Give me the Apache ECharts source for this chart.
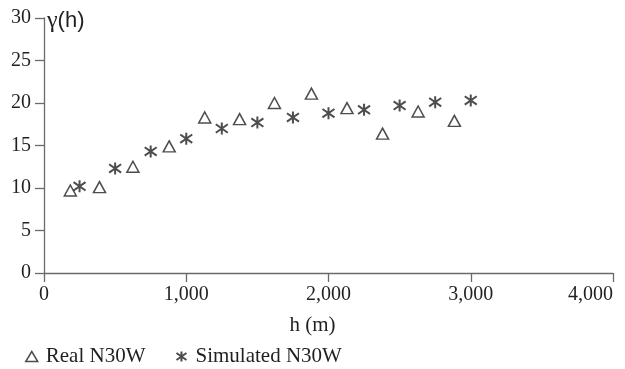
<!DOCTYPE html>
<html><head><meta charset="utf-8">
<script src="https://cdn.jsdelivr.net/npm/echarts@6/dist/echarts.min.js"></script>
<style>html,body{margin:0;padding:0;background:#fff}#c{width:625px;height:369px}</style>
</head><body><div id="c"></div>
<script>
const realH = [185, 390, 625, 880, 1130, 1375, 1620, 1880, 2130, 2380, 2630, 2885];
const realG = [9.7, 10.1, 12.5, 14.9, 18.3, 18.1, 20.0, 21.1, 19.4, 16.4, 19.0, 17.9];
const simH = [250, 500, 750, 1000, 1250, 1500, 1750, 2000, 2250, 2500, 2750, 3000];
const simG = [10.2, 12.3, 14.3, 15.8, 17.0, 17.7, 18.3, 18.8, 19.2, 19.7, 20.1, 20.3];
const seriesNames = ['Real N30W', 'Simulated N30W'];

const star = 'path://M0,-1L0,1M-1,-0.7L1,0.7M-1,0.7L1,-0.7';
const serif = '"Liberation Serif", "DejaVu Serif", serif';
const sans = '"Liberation Sans", Arial, sans-serif';
const ink = '#231f20';
const axisCol = '#6a6a6a';

const chart = echarts.init(document.getElementById('c'));
chart.setOption({
  animation: false,
  grid: {left: 44, right: 12, top: 18, bottom: 96, containLabel: false, outerBoundsMode: 'none'},
  legend: {
    left: 25, bottom: 2, padding: 0, itemGap: 30, itemWidth: 12, itemHeight: 10,
    textStyle: {fontFamily: serif, fontSize: 21, color: ink, padding: [0, 0, 0, 3]},
    data: [
      {name: seriesNames[0], icon: 'triangle', itemStyle: {color: 'transparent', borderColor: ink, borderWidth: 1.5}},
      {name: seriesNames[1], icon: star, itemStyle: {color: 'transparent', borderColor: ink, borderWidth: 2}}
    ]
  },
  xAxis: {
    type: 'value', min: 0, max: 4000, interval: 1000,
    name: 'h (m)', nameLocation: 'middle', nameGap: 42,
    nameTextStyle: {fontFamily: serif, fontSize: 21, color: ink, padding: [0, 32, 0, 0]},
    axisLine: {show: true, lineStyle: {color: axisCol, width: 1.3}},
    axisTick: {show: true, inside: false, length: 9, lineStyle: {color: axisCol, width: 1.3}},
    axisLabel: {fontFamily: serif, fontSize: 20, color: ink, margin: 12, alignMaxLabel: 'right',
      formatter: v => v.toLocaleString('en-US')},
    splitLine: {show: false}
  },
  yAxis: {
    type: 'value', min: 0, max: 30, interval: 5,
    axisLine: {show: true, lineStyle: {color: axisCol, width: 1.3}},
    axisTick: {show: true, inside: false, length: 9, lineStyle: {color: axisCol, width: 1.3}},
    axisLabel: {fontFamily: serif, fontSize: 20, color: ink, margin: 13},
    splitLine: {show: false}
  },
  graphic: [{
    type: 'text', left: 47, top: 9,
    style: {
      text: '{g|γ}{s|(h)}',
      rich: {
        g: {fontFamily: serif, fontSize: 24, fill: ink},
        s: {fontFamily: sans, fontSize: 22, fill: ink}
      }
    }
  }],
  series: [
    {
      name: seriesNames[0], type: 'scatter', symbol: 'triangle', symbolSize: [12, 11],
      itemStyle: {color: 'transparent', borderColor: ink, borderWidth: 1.5},
      data: realH.map((h, i) => [h, realG[i]])
    },
    {
      name: seriesNames[1], type: 'scatter', symbol: star, symbolSize: [12, 12],
      itemStyle: {color: 'transparent', borderColor: ink, borderWidth: 2},
      data: simH.map((h, i) => [h, simG[i]])
    }
  ]
});
</script></body></html>
